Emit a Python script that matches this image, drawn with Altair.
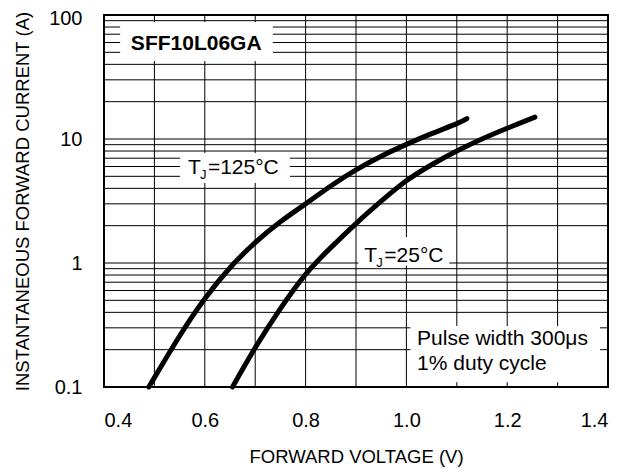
import altair as alt
import pandas as pd

# ---- data ----
v_125 = [0.489, 0.50, 0.55, 0.60, 0.65, 0.70, 0.75, 0.80, 0.85, 0.90, 0.95, 1.00, 1.05, 1.10, 1.12]
i_125 = [0.1, 0.119, 0.258, 0.515, 0.916, 1.46, 2.15, 3.0, 4.18, 5.64, 7.27, 9.05, 11.04, 13.3, 14.6]

v_25 = [0.655, 0.70, 0.75, 0.80, 0.85, 0.90, 0.95, 1.00, 1.05, 1.10, 1.15, 1.20, 1.255]
i_25 = [0.1, 0.207, 0.428, 0.81, 1.33, 2.08, 3.15, 4.6, 6.2, 8.0, 10.0, 12.2, 15.0]

x_grid = [0.5, 0.6, 0.7, 0.8, 0.9, 1.0, 1.1, 1.2, 1.3]
y_grid = [0.2, 0.3, 0.4, 0.5, 0.6, 0.7, 0.8, 0.9,
          1, 2, 3, 4, 5, 6, 7, 8, 9,
          10, 20, 30, 40, 50, 60, 70, 80, 90]
x_ticks = [0.4, 0.6, 0.8, 1.0, 1.2, 1.4]
y_ticks = [0.1, 1, 10, 100]

FONT = "Liberation Sans"

xs = alt.Scale(domain=[0.4, 1.4], nice=False, zero=False)
ys = alt.Scale(type="log", domain=[0.1, 100], nice=False)

x_axis = alt.Axis(values=x_ticks, format=".1f", grid=False, ticks=False, tickSize=0,
                  domain=False, labelFont=FONT, labelFontSize=20, labelColor="black",
                  labelPadding=23, title="FORWARD VOLTAGE (V)", titleFont=FONT,
                  titleFontSize=18.5, titleFontWeight="normal", titleColor="black",
                  titlePadding=17)
y_axis = alt.Axis(values=y_ticks, format="~g", grid=False, ticks=False, tickSize=0,
                  domain=False, labelFont=FONT, labelFontSize=20, labelColor="black",
                  labelPadding=22,
                  labelOffset={"condition": {"test": "datum.value >= 100", "value": 3}, "value": 0},
                  title="INSTANTANEOUS FORWARD CURRENT (A)",
                  titleFont=FONT, titleFontSize=18.5, titleFontWeight="normal",
                  titleColor="black", titlePadding=16)


def X(field, **kw):
    return alt.X(field, type="quantitative", scale=xs, axis=x_axis, **kw)


def Y(field, **kw):
    return alt.Y(field, type="quantitative", scale=ys, axis=y_axis, **kw)


curves = pd.DataFrame({
    "v": v_125 + v_25,
    "i": i_125 + i_25,
    "s": ["125"] * len(v_125) + ["25"] * len(v_25),
})

vgrid = alt.Chart(pd.DataFrame({"v": x_grid})).mark_rule(
    color="black", strokeWidth=1).encode(x=X("v"))
hgrid = alt.Chart(pd.DataFrame({"i": y_grid})).mark_rule(
    color="black", strokeWidth=1).encode(y=Y("i"))

# white label boxes (data coordinates)
boxes = pd.DataFrame({
    "x1": [0.432, 0.551, 0.905, 1.008],
    "x2": [0.735, 0.769, 1.085, 1.384],
    "y1": [88.0, 7.7, 1.62, 0.31],
    "y2": [42.5, 4.42, 0.95, 0.109],
})
box_layer = alt.Chart(boxes).mark_rect(fill="white").encode(
    x=X("x1"), x2="x2", y=Y("y1"), y2="y2")

lines = alt.Chart(curves).mark_line(
    color="black", strokeWidth=5, strokeCap="round", interpolate="natural"
).encode(x=X("v"), y=Y("i"), detail="s:N", order="v:Q")

title_df = pd.DataFrame({"x": [0.583], "y": [52.5], "t": ["SFF10L06GA"]})
title_txt = alt.Chart(title_df).mark_text(
    font=FONT, fontSize=21, fontWeight="bold", align="center", baseline="alphabetic",
    color="black").encode(x=X("x"), y=Y("y"), text="t:N")

tj = pd.DataFrame({"x": [0.5665, 0.9164], "y": [5.19, 1.01], "rest": ["=125°C", "=25°C"]})
t_T = alt.Chart(tj).mark_text(font=FONT, fontSize=21, align="left", baseline="alphabetic",
                              color="black").encode(x=X("x"), y=Y("y"), text=alt.value("T"))
t_J = alt.Chart(tj).mark_text(font=FONT, fontSize=13, align="left", baseline="alphabetic",
                              dx=12, dy=5, color="black").encode(
    x=X("x"), y=Y("y"), text=alt.value("J"))
t_rest = alt.Chart(tj).mark_text(font=FONT, fontSize=21, align="left", baseline="alphabetic",
                                 dx=20, color="black").encode(
    x=X("x"), y=Y("y"), text="rest:N")

pulse = pd.DataFrame({"x": [1.0212, 1.0212], "y": [0.2166, 0.137],
                      "t": ["Pulse width 300μs", "1% duty cycle"]})
pulse_txt = alt.Chart(pulse).mark_text(font=FONT, fontSize=21, align="left",
                                       baseline="alphabetic", color="black").encode(
    x=X("x"), y=Y("y"), text="t:N")

chart = alt.layer(
    vgrid, hgrid, box_layer, lines, title_txt, t_T, t_J, t_rest, pulse_txt
).properties(
    width=504, height=372,
    autosize=alt.AutoSizeParams(type="none"),
    padding={"left": 96, "top": 7, "right": 17, "bottom": 80},
    background="white",
).configure_view(stroke="black", strokeWidth=2)

chart.save("out.html", embed_options={"renderer": "svg", "actions": False})
